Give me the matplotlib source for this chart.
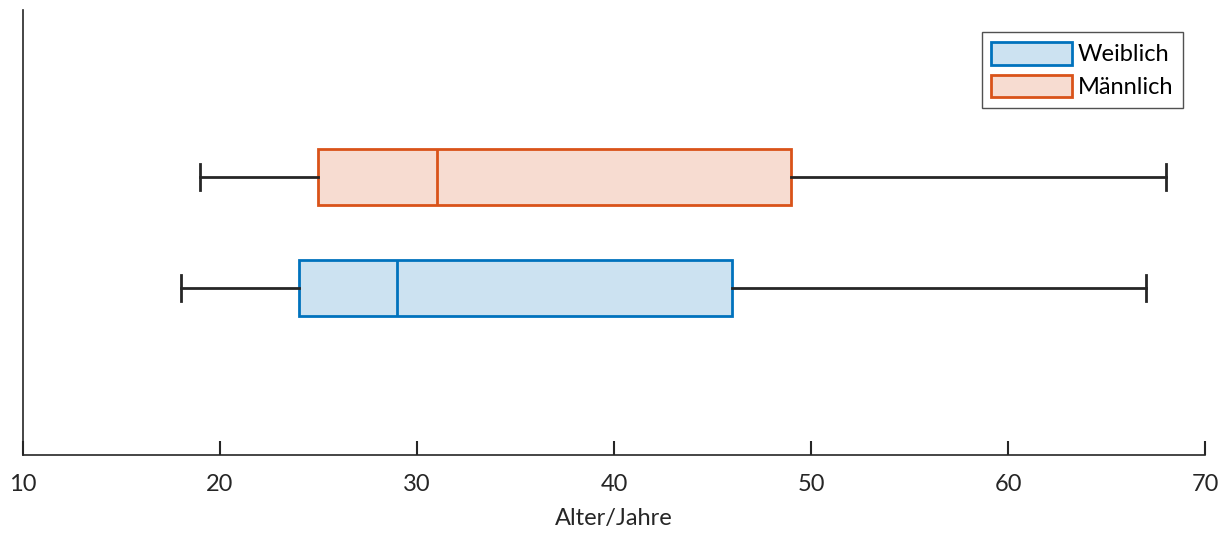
import matplotlib.pyplot as plt
from matplotlib.patches import Patch

plt.rcParams['font.family'] = ['Lato', 'DejaVu Sans']

# age distribution per group (whisker low, q1, median, q3, whisker high)
groups = ['Weiblich', 'Männlich']
whislo = [18, 19]
q1 = [24, 25]
med = [29, 31]
q3 = [46, 49]
whishi = [67, 68]

edge_colors = ['#0072BD', '#D95319']
face_colors = ['#CCE2F1', '#F7DCD1']

stats = []
for i, g in enumerate(groups):
    stats.append(dict(label=g, whislo=whislo[i], q1=q1[i], med=med[i],
                      q3=q3[i], whishi=whishi[i], fliers=[]))

fig = plt.figure(figsize=(12.28, 5.33), dpi=100)
ax = fig.add_axes([0.0187, 0.1463, 0.9626, 0.835])

bp = ax.bxp(stats, positions=[1, 2], vert=False, widths=0.5,
            patch_artist=True, showfliers=False,
            whiskerprops=dict(color='#262626', linewidth=2),
            capprops=dict(color='#262626', linewidth=2),
            capwidths=0.24)

for i, box in enumerate(bp['boxes']):
    box.set_facecolor(face_colors[i])
    box.set_edgecolor(edge_colors[i])
    box.set_linewidth(2)
for i, m in enumerate(bp['medians']):
    m.set_color(edge_colors[i])
    m.set_linewidth(2)

ax.set_xlim(10, 70)
ax.set_ylim(-0.5, 3.5)
ax.set_xticks(range(10, 71, 10))
ax.set_yticks([])
ax.tick_params(axis='x', direction='in', length=10, width=1.5,
               labelsize=17, colors='#262626', pad=14)
ax.spines['top'].set_visible(False)
ax.spines['right'].set_visible(False)
for s in ['left', 'bottom']:
    ax.spines[s].set_linewidth(1.2)
    ax.spines[s].set_color('#262626')
ax.set_xlabel('Alter/Jahre', fontsize=17, color='#262626', labelpad=9)

handles = [Patch(facecolor=face_colors[i], edgecolor=edge_colors[i],
                 linewidth=2, label=groups[i]) for i in range(2)]
leg = ax.legend(handles=handles, loc='upper right', bbox_to_anchor=(1.0, 1.0),
                fontsize=17, fancybox=False, edgecolor='#262626',
                handlelength=3.4, handleheight=1.1, handletextpad=0.25,
                borderpad=0.42, labelspacing=0.4, borderaxespad=0.93)
leg.get_frame().set_linewidth(1.0)

fig.savefig('out.png', dpi=100)
